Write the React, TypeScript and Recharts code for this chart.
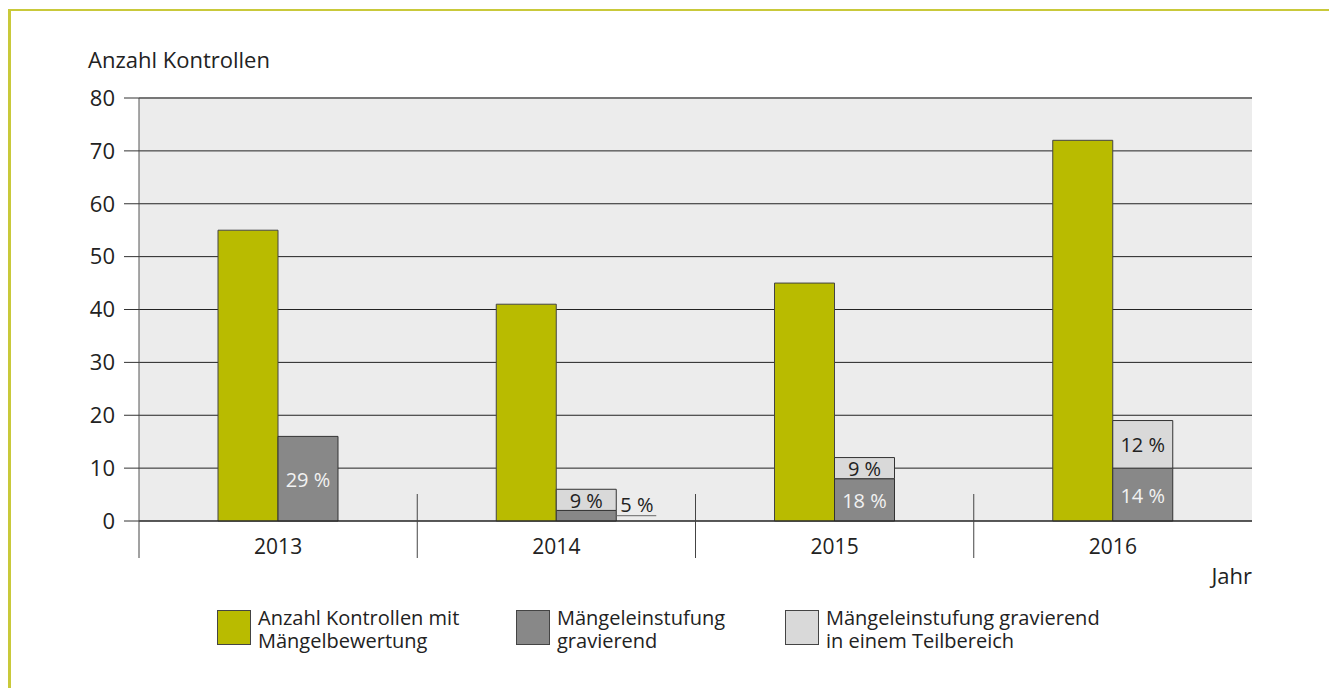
import React from "react";
import {
  BarChart,
  Bar,
  XAxis,
  YAxis,
  CartesianGrid,
  LabelList,
  ReferenceLine,
} from "recharts";

const years = ["2013", "2014", "2015", "2016"];
const kontrollen = [55, 41, 45, 72];
const gravierend = [16, 2, 8, 10];
const teilbereich = [0, 4, 4, 9];
const gravierendLabels = ["29 %", "5 %", "18 %", "14 %"];
const teilbereichLabels = ["", "9 %", "9 %", "12 %"];
const yTicks = [0, 10, 20, 30, 40, 50, 60, 70, 80];

const seriesNames = [
  "Anzahl Kontrollen mit\nMängelbewertung",
  "Mängeleinstufung\ngravierend",
  "Mängeleinstufung gravierend\nin einem Teilbereich",
];

const GREEN = "#b9bb00";
const DARK = "#888888";
const LIGHT = "#d9d9d9";
const FONT = "'Open Sans', 'Liberation Sans', sans-serif";

const data = years.map((year, i) => ({
  year,
  kontrollen: kontrollen[i],
  gravierend: gravierend[i],
  teilbereich: teilbereich[i],
  gLabel: gravierendLabels[i],
  tLabel: teilbereichLabels[i],
}));

const PLOT_LEFT = 139;
const PLOT_RIGHT = 1252;
const CAT_W = (PLOT_RIGHT - PLOT_LEFT) / years.length;

const XTick = (props: any) => {
  const { x, y, payload, index } = props;
  const left = x - CAT_W / 2;
  return (
    <g>
      <line
        x1={left}
        x2={left}
        y1={index === 0 ? y : y - 27}
        y2={y + 37}
        stroke="#444"
        strokeWidth={1}
      />
      <text x={x} y={y + 33} textAnchor="middle" fontSize={21} fill="#222" fontFamily={FONT}>
        {payload.value}
      </text>
    </g>
  );
};

const segLabel = (textColor: string) => (props: any) => {
  const { x, y, width, height, value } = props;
  if (!value) return null;
  if (height < 15) {
    const ly = y + height / 2;
    return (
      <g>
        <line x1={x + width} x2={x + width + 40} y1={ly} y2={ly} stroke="#666" strokeWidth={1} />
        <text x={x + width + 4} y={ly - 4} fontSize={20} fill="#222" fontFamily={FONT}>
          {value}
        </text>
      </g>
    );
  }
  return (
    <text
      x={x + width / 2}
      y={y + height / 2 + 8}
      textAnchor="middle"
      fontSize={20}
      fill={textColor}
      fontFamily={FONT}
    >
      {value}
    </text>
  );
};

const legendColors = [GREEN, DARK, LIGHT];
const legendX = [217, 516, 785];

export default function App() {
  return (
    <div style={{ position: "absolute", left: 0, top: 0, width: 1329, height: 688, background: "#fff", fontFamily: FONT }}>
      <div
        style={{
          position: "absolute",
          left: 8,
          top: 9,
          width: 1340,
          height: 700,
          borderLeft: "3px solid #c9c93a",
          borderTop: "2px solid #c9c93a",
        }}
      />
      <div style={{ position: "absolute", left: 88, top: 46, fontSize: 22, color: "#222", lineHeight: "26px" }}>
        Anzahl Kontrollen
      </div>
      <div style={{ position: "absolute", right: 1329 - 1252, top: 562, fontSize: 22, color: "#222", lineHeight: "26px" }}>
        Jahr
      </div>
      <div style={{ position: "absolute", left: 0, top: 0 }}>
        <BarChart
          width={1329}
          height={688}
          data={data}
          margin={{ top: 98, right: 1329 - PLOT_RIGHT, left: PLOT_LEFT - 60, bottom: 688 - 521 - 40 }}
          barGap={0}
        >
          <CartesianGrid vertical={false} stroke="#222" fill="#ececec" fillOpacity={1} />
          <XAxis
            dataKey="year"
            height={40}
            axisLine={{ stroke: "#222" }}
            tickLine={false}
            tickSize={0}
            tickMargin={0}
            tick={<XTick />}
            interval={0}
          />
          <YAxis
            width={60}
            domain={[0, 80]}
            ticks={yTicks}
            interval={0}
            tickSize={15}
            tickMargin={9}
            axisLine={{ stroke: "#555" }}
            tickLine={{ stroke: "#333" }}
            tick={{ fontSize: 22, fill: "#222", fontFamily: FONT }}
          />
          <ReferenceLine y={80} stroke="#777" strokeWidth={2} />
          <Bar dataKey="kontrollen" stackId="k" fill={GREEN} stroke="#444" strokeWidth={1} barSize={60} isAnimationActive={false} />
          <Bar dataKey="gravierend" stackId="a" fill={DARK} stroke="#333" strokeWidth={1} barSize={60} isAnimationActive={false}>
            <LabelList dataKey="gLabel" content={segLabel("#f2f2f2")} />
          </Bar>
          <Bar dataKey="teilbereich" stackId="a" fill={LIGHT} stroke="#333" strokeWidth={1} barSize={60} isAnimationActive={false}>
            <LabelList dataKey="tLabel" content={segLabel("#222")} />
          </Bar>
        </BarChart>
      </div>
      {seriesNames.map((name, i) => (
        <div key={name} style={{ position: "absolute", left: legendX[i], top: 610, display: "flex" }}>
          <div
            style={{
              width: 32,
              height: 33,
              background: legendColors[i],
              border: "1px solid #444",
              flexShrink: 0,
            }}
          />
          <div style={{ marginLeft: 7, marginTop: -4, fontSize: 20, lineHeight: "23px", color: "#222", whiteSpace: "pre" }}>
            {name}
          </div>
        </div>
      ))}
    </div>
  );
}
